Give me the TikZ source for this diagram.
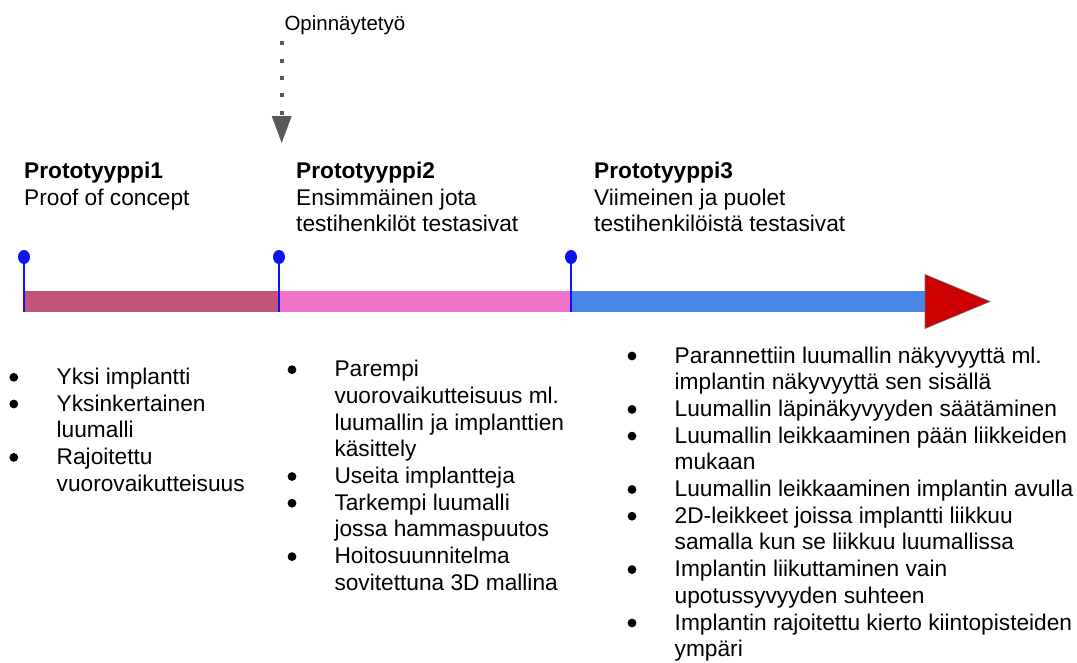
\documentclass[tikz,border=0pt]{standalone}
\usepackage{fontspec}
\setmainfont{Liberation Sans}
\usetikzlibrary{arrows.meta,shapes.geometric}
\definecolor{pOne}{HTML}{C2537A}
\definecolor{pTwo}{HTML}{F073C9}
\definecolor{pThree}{HTML}{4A86E8}
\definecolor{arrRed}{HTML}{CC0000}
\definecolor{arrEdge}{HTML}{6E6E6E}
\definecolor{pinBlue}{HTML}{1010F0}
\definecolor{dotGray}{HTML}{595959}
\newcommand\bodyfs{\fontsize{22.7}{26.7}\selectfont}
\newcommand\smallfs{\fontsize{20.5}{24}\selectfont}
\begin{document}
\begin{tikzpicture}[x=1pt,y=-1pt,
  txt/.style={font=\bodyfs, anchor=base west, inner sep=0pt, text=black},
  head/.style={txt, font=\bodyfs\bfseries},
  blt/.style={circle, fill=black, draw=none, minimum size=8.8pt, inner sep=0pt},
  seg/.style={draw=none, minimum height=21pt, inner sep=0pt, anchor=west},
  pinhead/.style={fill=pinBlue, draw=none, ellipse, minimum width=12pt, minimum height=14pt, inner sep=0pt},
  pinline/.style={draw=pinBlue, line width=1.5pt},
  dotarrow/.style={draw=dotGray, line width=4pt, dash pattern=on 4pt off 13.3pt,
    -{Triangle[width=20pt,length=27pt,line width=0pt]}, dotGray}
]
\useasboundingbox (0,0) rectangle (1077,662);

% timeline bar
\node[seg, fill=pOne, minimum width=255pt] (s1) at (24,301.5) {};
\node[seg, fill=pTwo, minimum width=292pt] (s2) at (279,301.5) {};
\node[seg, fill=pThree, minimum width=354pt] (s3) at (571,301.5) {};
\coordinate (tipA) at (925,274.5);
\coordinate (tipB) at (990,301.5);
\coordinate (tipC) at (925,328.5);
\filldraw[fill=arrRed, draw=arrEdge, line width=0.6pt, line join=miter] (tipA) -- (tipB) -- (tipC) -- cycle;

% pins
\node[pinhead] (pin1) at (24,257) {};
\node[pinhead] (pin2) at (279,257) {};
\node[pinhead] (pin3) at (571,257) {};
\draw[pinline] (pin1.center) -- (pin1 |- s1.south);
\draw[pinline] (pin2.center) -- (pin2 |- s2.south);
\draw[pinline] (pin3.center) -- (pin3 |- s3.south);

% Opinnaytetyo
\node[txt, font=\smallfs] (opin) at (284.3,30) {Opinnäytetyö};
\coordinate (dtip) at (281.7,143);
\draw[dotarrow, shorten <=7pt] (opin.south -| dtip) -- (dtip);

% headings
\node[head] (h1) at (24,178.3) {Prototyyppi1};
\node[txt] (h1a) at (24,205) {Proof of concept};
\node[head] (h2) at (296,178.3) {Prototyyppi2};
\node[txt] (h2a) at (296,205) {Ensimmäinen jota};
\node[txt] (h2b) at (296,231.7) {testihenkilöt testasivat};
\node[head] (h3) at (594,178.3) {Prototyyppi3};
\node[txt] (h3a) at (594,205) {Viimeinen ja puolet};
\node[txt] (h3b) at (594,231.7) {testihenkilöistä testasivat};

% left column
\node[blt] (lb1) at (13.8,377.3) {};
\node[txt] (l1) at (56.5,384.3) {Yksi implantti};
\node[blt] (lb2) at (13.8,404) {};
\node[txt] (l2) at (56.5,411) {Yksinkertainen};
\node[txt] (l3) at (56.5,437.7) {luumalli};
\node[blt] (lb3) at (13.8,457.4) {};
\node[txt] (l4) at (56.5,464.4) {Rajoitettu};
\node[txt] (l5) at (56.5,491.1) {vuorovaikutteisuus};

% middle column
\node[blt] (mb1) at (292,369.7) {};
\node[txt] (m1) at (334.3,376.7) {Parempi};
\node[txt] (m2) at (334.3,403.4) {vuorovaikutteisuus ml.};
\node[txt] (m3) at (334.3,430.1) {luumallin ja implanttien};
\node[txt] (m4) at (334.3,456.8) {käsittely};
\node[blt] (mb2) at (292,476.5) {};
\node[txt] (m5) at (334.3,483.5) {Useita implantteja};
\node[blt] (mb3) at (292,503.2) {};
\node[txt] (m6) at (334.3,510.2) {Tarkempi luumalli};
\node[txt] (m7) at (334.3,536.9) {jossa hammaspuutos};
\node[blt] (mb4) at (292,556.6) {};
\node[txt] (m8) at (334.3,563.6) {Hoitosuunnitelma};
\node[txt] (m9) at (334.3,590.3) {sovitettuna 3D mallina};

% right column
\node[blt] (rb1) at (632,356) {};
\node[txt] (r1) at (674.5,363) {Parannettiin luumallin näkyvyyttä ml.};
\node[txt] (r2) at (674.5,389.7) {implantin näkyvyyttä sen sisällä};
\node[blt] (rb2) at (632,409.4) {};
\node[txt] (r3) at (674.5,416.4) {Luumallin läpinäkyvyyden säätäminen};
\node[blt] (rb3) at (632,436.1) {};
\node[txt] (r4) at (674.5,443.1) {Luumallin leikkaaminen pään liikkeiden};
\node[txt] (r5) at (674.5,469.8) {mukaan};
\node[blt] (rb4) at (632,489.5) {};
\node[txt] (r6) at (674.5,496.5) {Luumallin leikkaaminen implantin avulla};
\node[blt] (rb5) at (632,516.2) {};
\node[txt] (r7) at (674.5,523.2) {2D-leikkeet joissa implantti liikkuu};
\node[txt] (r8) at (674.5,549.9) {samalla kun se liikkuu luumallissa};
\node[blt] (rb6) at (632,569.6) {};
\node[txt] (r9) at (674.5,576.6) {Implantin liikuttaminen vain};
\node[txt] (r10) at (674.5,603.3) {upotussyvyyden suhteen};
\node[blt] (rb7) at (632,623) {};
\node[txt] (r11) at (674.5,630) {Implantin rajoitettu kierto kiintopisteiden};
\node[txt] (r12) at (674.5,656.7) {ympäri};
\end{tikzpicture}
\end{document}
